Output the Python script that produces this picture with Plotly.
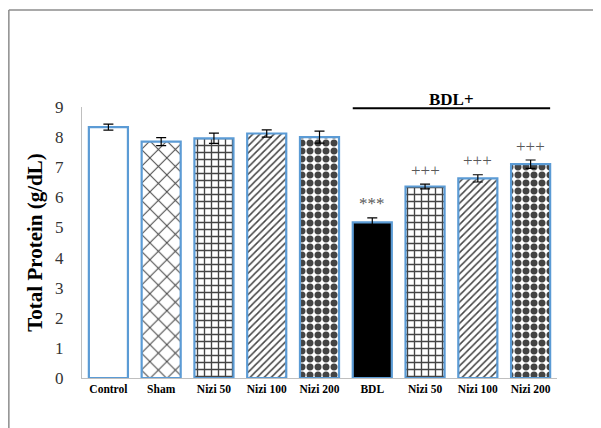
import plotly.graph_objects as go

categories = ["Control", "Sham", "Nizi 50", "Nizi 100", "Nizi 200", "BDL", "Nizi 50 ", "Nizi 100 ", "Nizi 200 "]
tick_labels = ["Control", "Sham", "Nizi 50", "Nizi 100", "Nizi 200", "BDL", "Nizi 50", "Nizi 100", "Nizi 200"]
values = [8.33, 7.85, 7.96, 8.12, 8.0, 5.17, 6.36, 6.63, 7.1]
errors = [0.1, 0.13, 0.17, 0.12, 0.2, 0.15, 0.08, 0.12, 0.14]
markers = ["", "", "", "", "", "***", "+++", "+++", "+++"]
patterns = ["", "x", "+", "/", ".", "", "+", "/", "."]
fills = ["white", "white", "white", "white", "white", "black", "white", "white", "white"]
pat_size = [8, 12, 7, 5, 8, 8, 7, 5, 8]
pat_sol = [0.3, 0.16, 0.35, 0.3, 0.6, 0.3, 0.35, 0.3, 0.6]

fig = go.Figure()
fig.add_trace(go.Bar(
    x=categories, y=values,
    error_y=dict(type="data", array=errors, color="black", thickness=1.2, width=5),
    marker=dict(
        color=fills,
        line=dict(color="#5B9BD5", width=2.2),
        pattern=dict(shape=patterns, fgcolor="black", fgopacity=1,
                     size=pat_size, solidity=pat_sol, fillmode="overlay"),
    ),
    width=0.74,
))

for c, v, e, m in zip(categories, values, errors, markers):
    if m:
        fig.add_annotation(x=c, y=v + e + 0.08, text=m, showarrow=False, yanchor="bottom",
                           font=dict(family="Liberation Serif", size=17, color="#595959"))

# BDL+ group bracket
fig.add_shape(type="line", xref="x", yref="paper", x0=4.63, x1=8.37, y0=0.995, y1=0.995,
              line=dict(color="black", width=2))
fig.add_annotation(xref="x", yref="paper", x=6.5, y=1.07, text="<b>BDL+</b>", showarrow=False,
                   font=dict(family="Liberation Serif", size=17, color="black"))

# outer frame (left and top visible)
fig.add_shape(type="line", xref="paper", yref="paper", x0=-0.154, x1=-0.154, y0=-0.2, y1=1.358,
              line=dict(color="#8c8c8c", width=1.5))
fig.add_shape(type="line", xref="paper", yref="paper", x0=-0.154, x1=1.2, y0=1.358, y1=1.358,
              line=dict(color="#8c8c8c", width=1.5))

fig.update_layout(
    width=593, height=420,
    margin=dict(l=74, r=44, t=99, b=50),
    paper_bgcolor="white", plot_bgcolor="white",
    showlegend=False,
    font=dict(family="Liberation Serif", color="black"),
)
fig.update_xaxes(
    type="category", tickvals=categories, ticktext=["<b>%s</b>" % t for t in tick_labels],
    tickfont=dict(family="Liberation Serif", size=11.5, color="black"),
    showline=True, linecolor="#BFBFBF", linewidth=1.2, showgrid=False, ticks="",
    range=[-0.5, 8.5],
)
fig.update_yaxes(
    range=[0, 9], dtick=1, showgrid=False, zeroline=False,
    showline=True, linecolor="#BFBFBF", linewidth=1.2, ticks="", ticklabelstandoff=14,
    tickfont=dict(family="Liberation Serif", size=17, color="#333333"),
    title=dict(text="<b>Total Protein (g/dL)</b>", standoff=6,
               font=dict(family="Liberation Serif", size=21, color="black")),
)

fig.write_html("out.html")
